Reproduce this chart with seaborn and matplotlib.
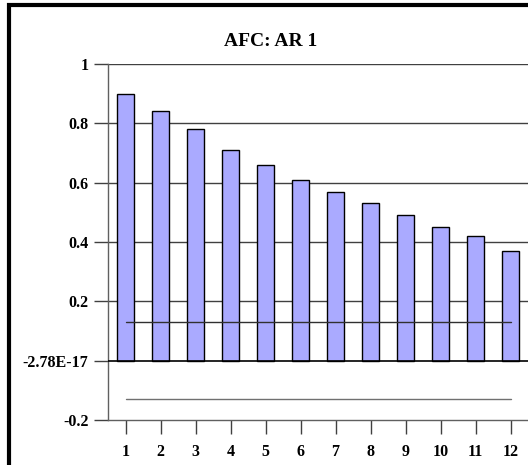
import matplotlib
matplotlib.use("Agg")
import matplotlib.pyplot as plt
import seaborn as sns
import pandas as pd
from matplotlib.patches import Rectangle

lags = [1, 2, 3, 4, 5, 6, 7, 8, 9, 10, 11, 12]
acf = [0.90, 0.84, 0.78, 0.71, 0.66, 0.61, 0.57, 0.53, 0.49, 0.45, 0.42, 0.37]
ci_upper = 0.13
ci_lower = -0.13
yticks = [-0.2, 0.0, 0.2, 0.4, 0.6, 0.8, 1.0]
ytick_labels = ["-0.2", "-2.78E-17", "0.2", "0.4", "0.6", "0.8", "1"]
title = "AFC: AR 1"

sns.set_style("ticks")
plt.rcParams['font.family'] = ['Liberation Serif', 'DejaVu Serif']
plt.rcParams['text.color'] = 'black'
plt.rcParams['xtick.color'] = 'black'
plt.rcParams['ytick.color'] = 'black'

W, H = 528, 465
fig = plt.figure(figsize=(W / 100, H / 100), dpi=100)
ax = fig.add_axes([108 / W, 1 - 420 / H, (528 - 108) / W, (420 - 64) / H])

df = pd.DataFrame({"lag": [str(l) for l in lags], "acf": acf})
sns.barplot(data=df, x="lag", y="acf", color="#AAAAFF", edgecolor="black",
            linewidth=1.0, width=0.5, saturation=1, ax=ax, zorder=3)

ax.set_xlim(-0.5, len(lags) - 0.5)
ax.set_ylim(yticks[0], yticks[-1])
ax.set_yticks(yticks)
ax.set_yticklabels(ytick_labels)
ax.set_xlabel("")
ax.set_ylabel("")

# gridlines
for yv in yticks[2:]:
    ax.axhline(yv, color="#404040", lw=1.0, zorder=1)
ax.axhline(0, color="black", lw=1.2, zorder=4)

# confidence lines
ax.plot([0, len(lags) - 1], [ci_upper, ci_upper], color="#303030", lw=1.0, zorder=5)
ax.plot([0, len(lags) - 1], [ci_lower, ci_lower], color="#707070", lw=1.0, zorder=5)

for s in ["top", "right"]:
    ax.spines[s].set_visible(False)
for s in ["left", "bottom"]:
    ax.spines[s].set_color("#606060")
    ax.spines[s].set_linewidth(1.0)

ax.tick_params(axis="both", which="major", direction="out", length=10, width=1,
               color="#404040", labelcolor="black", labelsize=11.5, pad=4,
               bottom=True, left=True)
ax.tick_params(axis="x", pad=7)
for lab in ax.get_xticklabels() + ax.get_yticklabels():
    lab.set_fontweight("bold")

fig.text(271 / W, 1 - 42 / H, title, ha="center", va="center",
         fontsize=14, fontweight="bold", color="black")

# outer frame
fig.patches.append(Rectangle((8.5 / W, -0.1), 1.2, (1 - 5.5 / H) + 0.1,
                             transform=fig.transFigure, fill=False,
                             edgecolor="black", linewidth=3))

fig.savefig("out.png", dpi=100)
